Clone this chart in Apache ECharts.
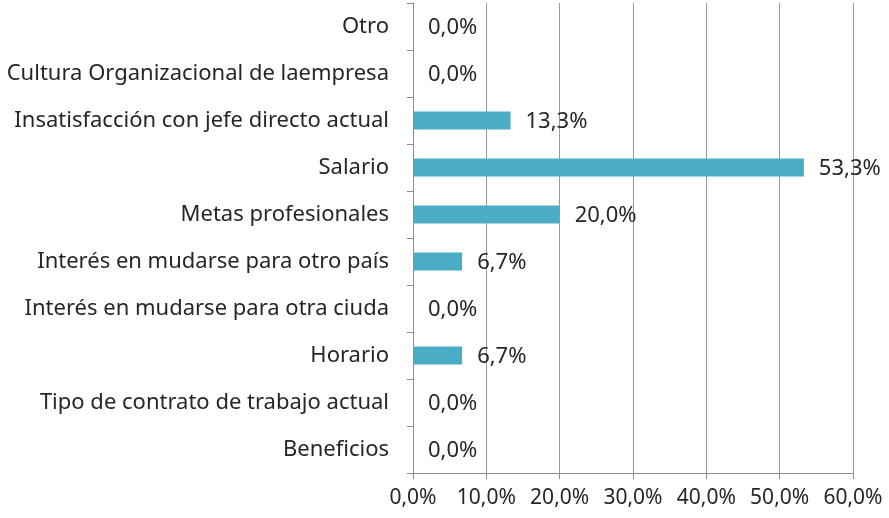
<!DOCTYPE html>
<html><head><meta charset="utf-8">
<script src="https://cdn.jsdelivr.net/npm/echarts@6/dist/echarts.min.js"></script>
<style>html,body{margin:0;padding:0;background:#fff}#c{width:889px;height:518px}</style>
</head><body><div id="c"></div>
<script>
const categories = ["Beneficios","Tipo de contrato de trabajo actual","Horario","Interés en mudarse para otra ciuda","Interés en mudarse para otro país","Metas profesionales","Salario","Insatisfacción con jefe directo actual","Cultura Organizacional de laempresa","Otro"];
const values = [0.0, 0.0, 6.7, 0.0, 6.7, 20.0, 53.3, 13.3, 0.0, 0.0];
const xTicks = [0, 10, 20, 30, 40, 50, 60];
const fmt = v => v.toFixed(1).replace('.', ',') + '%';
const FONT = 'Noto Sans';
const chart = echarts.init(document.getElementById('c'));
chart.setOption({
  animation: false,
  grid: {left: 413, right: 36, top: 3, bottom: 45, containLabel: false},
  xAxis: {
    type: 'value', min: xTicks[0], max: xTicks[xTicks.length-1], interval: 10,
    axisLine: {show: true, lineStyle: {color: '#8c8c8c', width: 1}},
    axisTick: {show: true, length: 6, lineStyle: {color: '#8c8c8c'}},
    splitLine: {show: true, lineStyle: {color: '#9a9a9a', width: 1}},
    axisLabel: {formatter: v => fmt(v), fontFamily: FONT, fontSize: 21, color: '#262626', margin: 15}
  },
  yAxis: {
    type: 'category', data: categories,
    axisLine: {show: true, lineStyle: {color: '#8c8c8c', width: 1}},
    axisTick: {show: true, length: 6, lineStyle: {color: '#8c8c8c'}},
    axisLabel: {fontFamily: FONT, fontSize: 22, color: '#262626', margin: 24}
  },
  series: [{
    type: 'bar', data: values, barWidth: 18,
    itemStyle: {color: '#4BACC6'},
    label: {show: true, position: 'right', distance: 15, formatter: p => fmt(p.value), fontFamily: FONT, fontSize: 22, color: '#262626', offset: [0, 1]}
  }]
});
</script></body></html>
